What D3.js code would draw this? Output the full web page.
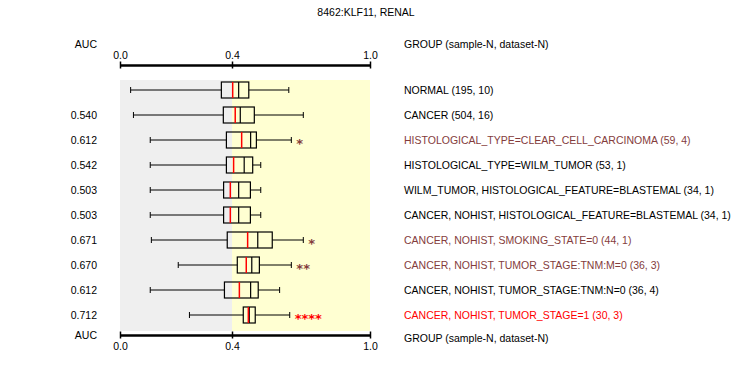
<!DOCTYPE html>
<html>
<head>
<meta charset="utf-8">
<script src="https://cdn.jsdelivr.net/npm/d3@7"></script>
<style>
  body { margin: 0; background: #fff; }
  svg text { font-family: "Liberation Sans", Arial, sans-serif; font-size: 10.5px; }
</style>
</head>
<body>
<div id="chart"></div>
<script>
// --- data ---
const title = '8462:KLF11, RENAL';
const groups = [
  'NORMAL (195, 10)',
  'CANCER (504, 16)',
  'HISTOLOGICAL_TYPE=CLEAR_CELL_CARCINOMA (59, 4)',
  'HISTOLOGICAL_TYPE=WILM_TUMOR (53, 1)',
  'WILM_TUMOR, HISTOLOGICAL_FEATURE=BLASTEMAL (34, 1)',
  'CANCER, NOHIST, HISTOLOGICAL_FEATURE=BLASTEMAL (34, 1)',
  'CANCER, NOHIST, SMOKING_STATE=0 (44, 1)',
  'CANCER, NOHIST, TUMOR_STAGE:TNM:M=0 (36, 3)',
  'CANCER, NOHIST, TUMOR_STAGE:TNM:N=0 (36, 4)',
  'CANCER, NOHIST, TUMOR_STAGE=1 (30, 3)'
];
const auc = ['', '0.540', '0.612', '0.542', '0.503', '0.503', '0.671', '0.670', '0.612', '0.712'];
const stars = ['', '', '*', '', '', '', '*', '**', '', '****'];
// 0 = plain, 1 = weak (brown), 2 = strong (red)
const level = [0, 0, 1, 0, 0, 0, 1, 1, 0, 2];

const whiskerLow  = [0.038, 0.048, 0.108, 0.108, 0.108, 0.108, 0.112, 0.208, 0.108, 0.248];
const q1          = [0.362, 0.369, 0.380, 0.380, 0.370, 0.370, 0.383, 0.423, 0.373, 0.449];
const median      = [0.403, 0.414, 0.442, 0.407, 0.394, 0.394, 0.468, 0.462, 0.432, 0.471];
const mean        = [0.429, 0.436, 0.481, 0.453, 0.429, 0.429, 0.512, 0.486, 0.481, 0.475];
const q3          = [0.473, 0.497, 0.506, 0.490, 0.480, 0.480, 0.575, 0.519, 0.514, 0.501];
const whiskerHigh = [0.647, 0.710, 0.658, 0.525, 0.525, 0.525, 0.710, 0.658, 0.607, 0.651];

const tickValues = [0, 0.4, 1];
const axisTitle = 'AUC';
const groupTitle = 'GROUP (sample-N, dataset-N)';

const width = 733, height = 380;
const textColor = ['#000', '#843c3c', '#ff0000'];

const svg = d3.select('#chart').append('svg')
  .attr('width', width)
  .attr('height', height);

// the picture stretches 0..0.4 wider than 0.4..1
const x = d3.scaleLinear().domain([0, 0.4, 1]).range([120, 232, 370]);
const y = d3.scalePoint().domain(d3.range(groups.length)).range([90, 315]);

const topAxisY = 65, bottomAxisY = 335;
const bandTop = 80, bandBottom = 331;

// background bands
svg.append('rect')
  .attr('x', x(0)).attr('y', bandTop)
  .attr('width', x(0.4) - x(0)).attr('height', bandBottom - bandTop)
  .attr('fill', '#efefef');
svg.append('rect')
  .attr('x', x(0.4)).attr('y', bandTop)
  .attr('width', x(1) - x(0.4)).attr('height', bandBottom - bandTop)
  .attr('fill', '#ffffd2');

// title
svg.append('text')
  .attr('x', 366).attr('y', 16)
  .attr('text-anchor', 'middle')
  .text(title);

// axes
function drawAxis(gen, yPos) {
  const g = svg.append('g')
    .attr('transform', `translate(0,${yPos})`)
    .call(gen.tickValues(tickValues).tickFormat(d3.format('.1f')).tickSizeOuter(0).tickSize(0).tickPadding(0));
  g.select('.domain').attr('stroke', '#000').attr('stroke-width', 2.5);
  g.selectAll('.tick line').attr('y1', -3.5).attr('y2', 3.5).attr('stroke', '#000').attr('stroke-width', 1.5);
  g.selectAll('.tick text')
    .attr('font-size', null).attr('font-family', null)
    .attr('fill', '#000');
  return g;
}
const topAx = drawAxis(d3.axisTop(x), topAxisY);
topAx.selectAll('.tick text').attr('y', -6);
const botAx = drawAxis(d3.axisBottom(x), bottomAxisY);
botAx.selectAll('.tick text').attr('y', 8);

svg.append('text').attr('x', 97).attr('y', 48).attr('text-anchor', 'end').text(axisTitle);
svg.append('text').attr('x', 97).attr('y', 339).attr('text-anchor', 'end').text(axisTitle);
svg.append('text').attr('x', 404).attr('y', 48).text(groupTitle);
svg.append('text').attr('x', 404).attr('y', 342).text(groupTitle);

// rows
const rows = svg.append('g').selectAll('g')
  .data(d3.range(groups.length))
  .join('g')
  .attr('transform', i => `translate(0,${y(i)})`);

const boxH = 16, capH = 6;

rows.append('line')
  .attr('x1', i => x(whiskerLow[i])).attr('x2', i => x(q1[i]))
  .attr('stroke', '#000').attr('stroke-width', 1);
rows.append('line')
  .attr('x1', i => x(q3[i])).attr('x2', i => x(whiskerHigh[i]))
  .attr('stroke', '#000').attr('stroke-width', 1);
rows.append('line')
  .attr('x1', i => x(whiskerLow[i])).attr('x2', i => x(whiskerLow[i]))
  .attr('y1', -capH / 2).attr('y2', capH / 2)
  .attr('stroke', '#000').attr('stroke-width', 1);
rows.append('line')
  .attr('x1', i => x(whiskerHigh[i])).attr('x2', i => x(whiskerHigh[i]))
  .attr('y1', -capH / 2).attr('y2', capH / 2)
  .attr('stroke', '#000').attr('stroke-width', 1);

rows.append('rect')
  .attr('x', i => x(q1[i])).attr('y', -boxH / 2)
  .attr('width', i => x(q3[i]) - x(q1[i])).attr('height', boxH)
  .attr('fill', 'none').attr('stroke', '#000').attr('stroke-width', 1.2);
rows.append('line')
  .attr('x1', i => x(mean[i])).attr('x2', i => x(mean[i]))
  .attr('y1', -boxH / 2).attr('y2', boxH / 2)
  .attr('stroke', '#000').attr('stroke-width', 1.2);
rows.append('line')
  .attr('x1', i => x(median[i])).attr('x2', i => x(median[i]))
  .attr('y1', -boxH / 2).attr('y2', boxH / 2)
  .attr('stroke', '#ff0000').attr('stroke-width', 1.5);

// significance stars (style, so the css font rule does not win)
rows.append('text')
  .attr('x', i => x(whiskerHigh[i]) + 5)
  .attr('y', 8)
  .style('font-family', '"DejaVu Sans", sans-serif')
  .style('font-size', '13px')
  .style('font-weight', 'bold')
  .attr('fill', i => textColor[level[i]])
  .text(i => stars[i]);

// AUC values
rows.append('text')
  .attr('x', 97).attr('y', 4)
  .attr('text-anchor', 'end')
  .text(i => auc[i]);

// group labels
rows.append('text')
  .attr('x', 404).attr('y', 4)
  .attr('fill', i => textColor[level[i]])
  .text(i => groups[i]);
</script>
</body>
</html>
